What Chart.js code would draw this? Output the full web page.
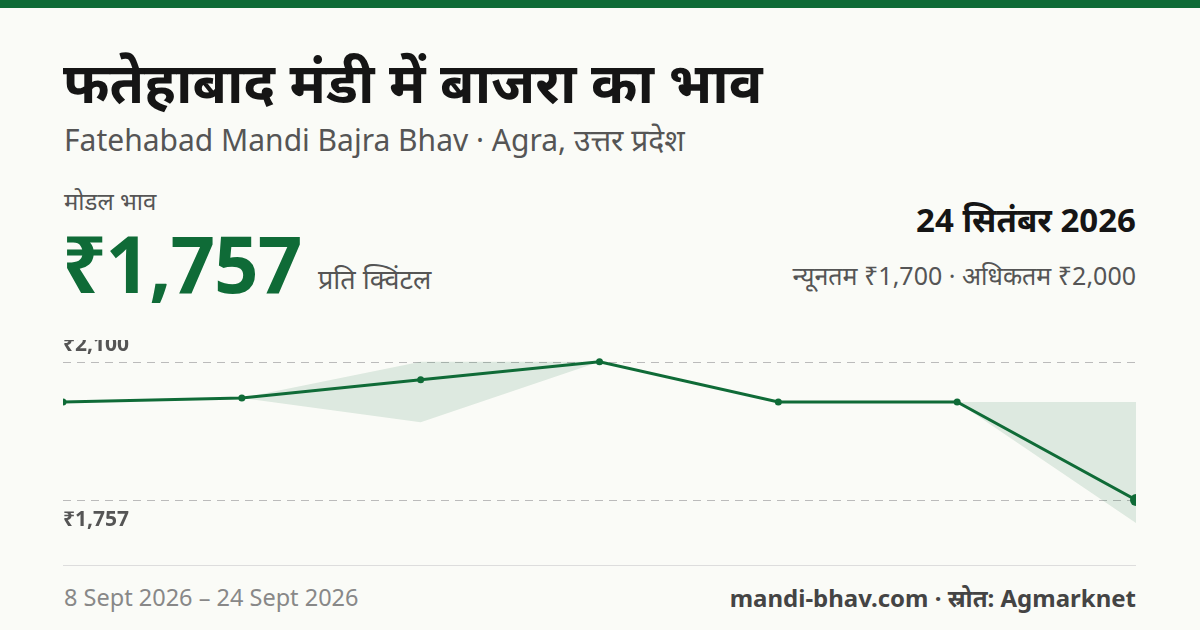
<!DOCTYPE html>
<html><head><meta charset="utf-8">
<script src="https://cdn.jsdelivr.net/npm/chart.js@4"></script>
<style>
body{margin:0;width:1200px;height:630px;background:#fafbf7;font-family:"Noto Sans",sans-serif;position:relative;overflow:hidden;color:#1a1a1a}
.bar{position:absolute;left:0;top:0;width:1200px;height:8px;background:#0f6b37}
.t{position:absolute;white-space:nowrap;line-height:1}
</style></head><body>
<div class="bar"></div>
<div class="t" style="left:63px;top:53px;font-size:56px;font-weight:700;color:#151515">फतेहाबाद मंडी में बाजरा का भाव</div>
<div class="t" style="left:64px;top:125px;font-size:30px;color:#555">Fatehabad Mandi Bajra Bhav · Agra, उत्तर प्रदेश</div>
<div class="t" style="left:64px;top:189px;font-size:24px;color:#555">मोडल भाव</div>
<div class="t" style="left:62px;top:224px;font-size:78px;font-weight:700;color:#0f6b37;letter-spacing:-1px">₹1,757</div>
<div class="t" style="left:318px;top:265px;font-size:27px;color:#555">प्रति क्विंटल</div>
<div class="t" style="right:64px;top:203px;font-size:33px;font-weight:700;color:#151515">24 सितंबर 2026</div>
<div class="t" style="right:64px;top:263px;font-size:25px;color:#555">न्यूनतम ₹1,700 · अधिकतम ₹2,000</div>
<div style="position:absolute;left:63px;top:340px;width:1073px;height:200px"><canvas id="c"></canvas></div>
<div style="position:absolute;left:63px;top:565px;width:1073px;height:1px;background:#ddd"></div>
<div class="t" style="left:64px;top:586px;font-size:23.5px;color:#888">8 Sept 2026 – 24 Sept 2026</div>
<div class="t" style="right:64px;top:586px;font-size:24px;font-weight:700;color:#444">mandi-bhav.com · स्रोत: Agmarknet</div>
<script>
const dates=["8 Sept","10 Sept","13 Sept","16 Sept","19 Sept","22 Sept","24 Sept"];
const modal=[2000,2010,2055,2100,2000,2000,1757];
const maxP=[2000,2010,2100,2100,2000,2000,2000];
const minP=[2000,2010,1950,2100,2000,2000,1700];
const refLines=[2100,1757];
const refLabels=["₹2,100","₹1,757"];
const G='#0f6b37';
const refPlugin={id:'ref',beforeDatasetsDraw(ch){const c=ch.ctx,y=ch.scales.y,a=ch.chartArea;c.save();c.strokeStyle='#bbb';c.lineWidth=1.2;c.setLineDash([8,6]);
refLines.forEach((v,i)=>{const p=Math.round(y.getPixelForValue(v))+0.5;c.beginPath();c.moveTo(a.left,p);c.lineTo(a.right,p);c.stroke();
c.fillStyle='#555';c.font='bold 21px "Noto Sans"';c.textBaseline='middle';c.fillText(refLabels[i],a.left,i==0?p-17:p+20);});c.restore();}};
new Chart(document.getElementById('c'),{type:'line',data:{labels:dates,datasets:[
{data:modal,borderColor:G,borderWidth:3,backgroundColor:G,pointRadius:modal.map((v,i)=>i==modal.length-1?6:3.5),pointBackgroundColor:G,pointBorderWidth:0,tension:0,fill:false,clip:false,order:0},
{data:maxP,borderWidth:0,pointRadius:0,fill:'+1',backgroundColor:'rgba(15,107,55,0.12)',order:1},
{data:minP,borderWidth:0,pointRadius:0,fill:false,order:2}]},
options:{responsive:true,maintainAspectRatio:false,animation:false,layout:{padding:0,autoPadding:false},plugins:{legend:{display:false},tooltip:{enabled:false}},
scales:{x:{display:false,offset:false},y:{display:false,min:1657.8,max:2153.8}}},plugins:[refPlugin]});
</script></body></html>
